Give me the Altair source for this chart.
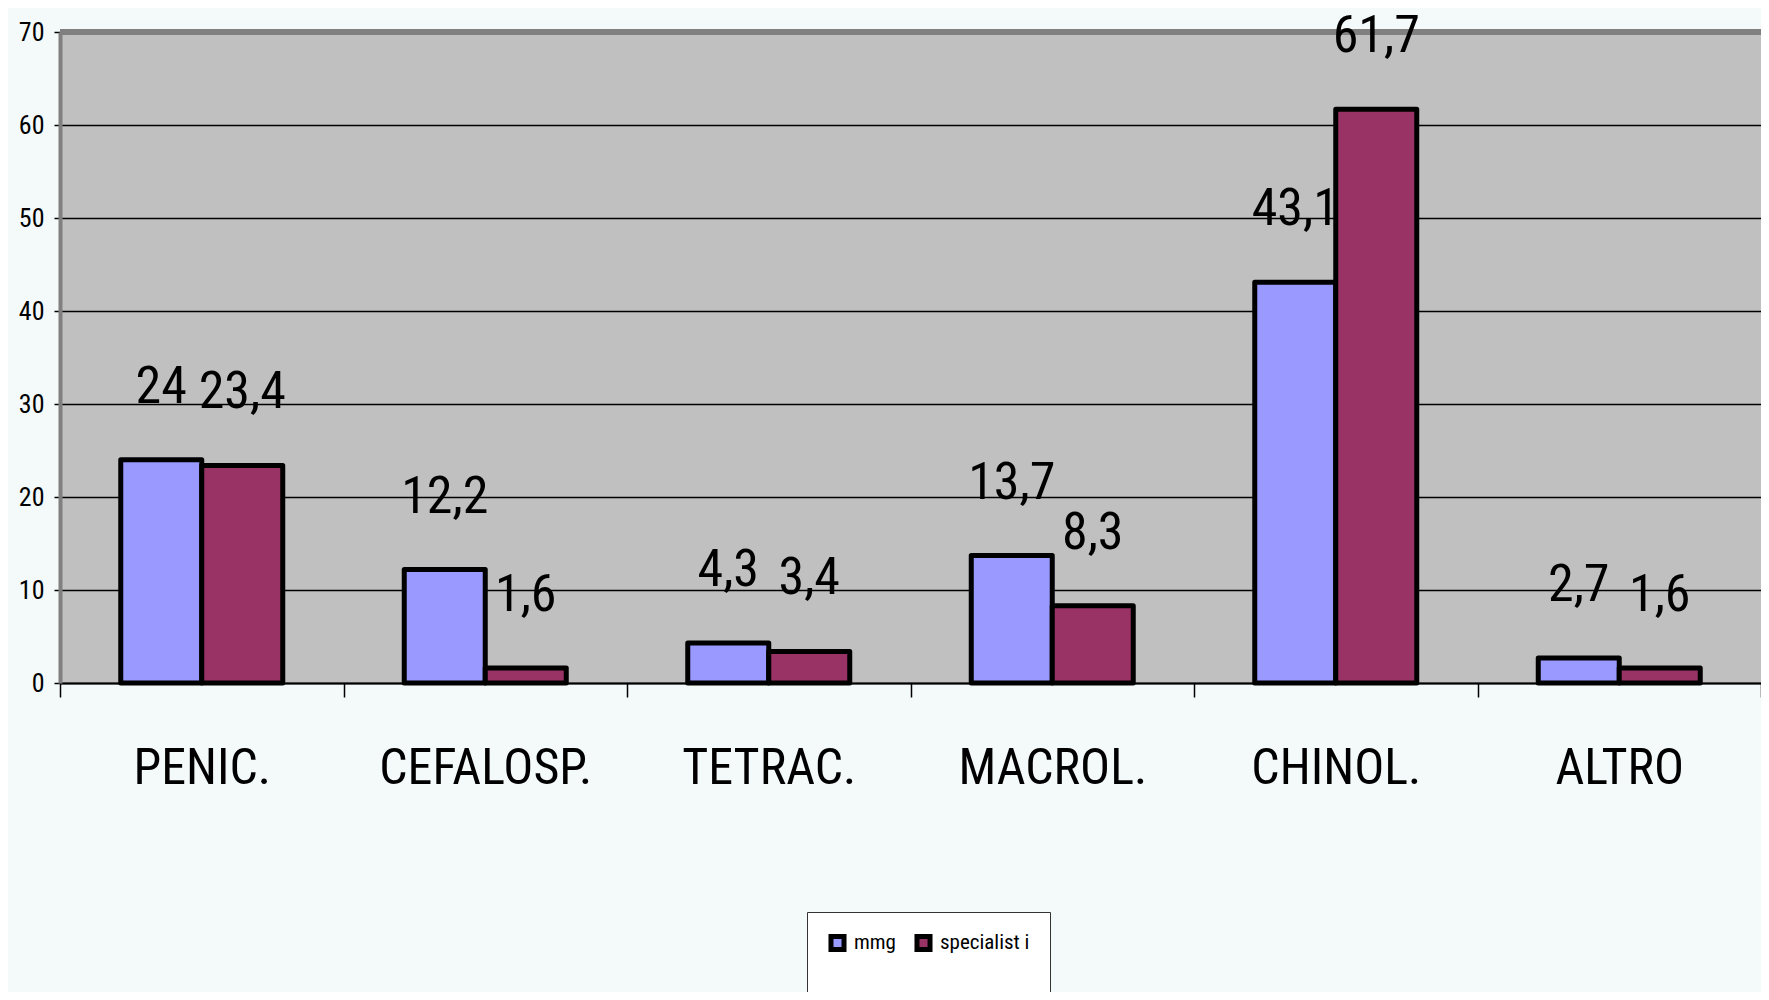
import altair as alt
import pandas as pd

categories = ["PENIC.", "CEFALOSP.", "TETRAC.", "MACROL.", "CHINOL.", "ALTRO"]
series = ["mmg", "specialist i"]
mmg = [24, 12.2, 4.3, 13.7, 43.1, 2.7]
specialisti = [23.4, 1.6, 3.4, 8.3, 61.7, 1.6]
y_ticks = [0, 10, 20, 30, 40, 50, 60, 70]
colors = ["#9999FF", "#993366"]

rows = []
for c, a, b in zip(categories, mmg, specialisti):
    for s, v in ((series[0], a), (series[1], b)):
        rows.append({"cat": c, "serie": s, "val": v,
                     "lab": (f"{v:g}").replace(".", ",")})
df = pd.DataFrame(rows)

FONT = "Liberation Sans Narrow, Arial Narrow, Roboto Condensed, DejaVu Sans Condensed, sans-serif"

x = alt.X("cat:N", sort=categories, title=None,
          scale=alt.Scale(paddingInner=0, paddingOuter=0),
          axis=alt.Axis(labelAngle=0, labelFont=FONT, labelFontSize=50,
                        labelColor="black", labelPadding=46, labelLimit=0,
                        tickBand="extent",
                        tickColor="black", tickSize=14, tickWidth=1.5,
                        domainColor="black", domainWidth=2, grid=False))
y = alt.Y("val:Q", title=None,
          scale=alt.Scale(domain=[0, 70], nice=False),
          axis=alt.Axis(values=y_ticks, labelFont=FONT, labelFontSize=26,
                        labelColor="black", labelPadding=10, tickColor="black",
                        tickSize=6, tickWidth=1.5, domain=True,
                        domainColor="#808080", domainWidth=4,
                        grid=True, gridColor="black", gridWidth=1.3))

xoff = alt.XOffset("serie:N", sort=series,
                   scale=alt.Scale(paddingInner=0, paddingOuter=0.75))

base = alt.Chart(df).encode(x=x, y=y, xOffset=xoff)

bars = base.mark_bar(stroke="black", strokeWidth=5, strokeJoin="round").encode(
    color=alt.Color("serie:N", sort=series,
                    scale=alt.Scale(domain=series, range=colors),
                    legend=alt.Legend(title=" ", titleOrient="bottom",
                                      titleFontSize=30, titlePadding=4,
                                      orient="none", legendX=747, legendY=880,
                                      direction="horizontal",
                                      fillColor="white", strokeColor="#333333",
                                      padding=20, symbolType="square",
                                      symbolSize=170, symbolStrokeColor="black",
                                      symbolStrokeWidth=5, symbolOpacity=1,
                                      labelFont=FONT, labelFontSize=21,
                                      labelColor="black", columnPadding=10,
                                      labelOffset=6))
)

labels = base.mark_text(font=FONT, fontSize=52, color="black",
                        baseline="alphabetic", dy=-57).encode(text="lab:N")

top_border = alt.Chart(df).mark_rule(color="#808080", strokeWidth=6).encode(
    y=alt.datum(70))

chart = (bars + top_border + labels).properties(
    width=1701, height=651,
    autosize=alt.AutoSizeParams(type="none"),
    padding={"left": 52, "top": 24, "right": 0, "bottom": 309},
    background="#F4F9F9",
).configure_view(
    fill="#C0C0C0", stroke=None
)

chart.save("out.html", embed_options={"renderer": "svg", "actions": False})
